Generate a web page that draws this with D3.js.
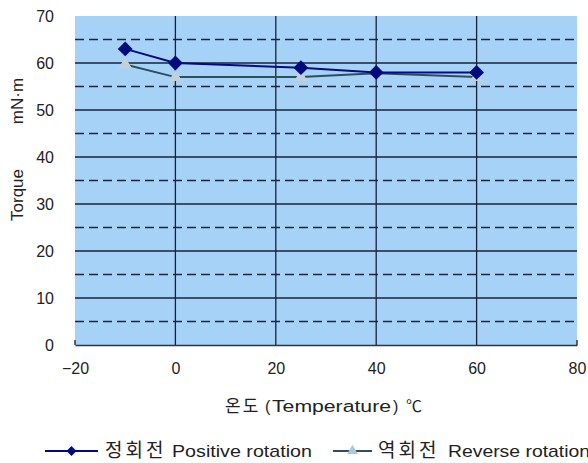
<!DOCTYPE html>
<html>
<head>
<meta charset="utf-8">
<script src="https://cdn.jsdelivr.net/npm/d3@7"></script>
<style>
  body { margin: 0; background: #fff; }
  svg { display: block; font-family: Arial, "Liberation Sans", sans-serif; }
</style>
</head>
<body>
<svg id="chart" width="588" height="463"></svg>
<script>
// Torque vs. temperature, forward and reverse rotation
const temperatures = [-10, 0, 25, 40, 60];
const positiveTorque = [63, 60, 59, 58, 58];
const reverseTorque = [59.7, 57, 57, 57.8, 57];
const xTicks = [-20, 0, 20, 40, 60, 80];
const yTicks = [0, 10, 20, 30, 40, 50, 60, 70];
const yMinorLines = [5, 15, 25, 35, 45, 55, 65];

const latin = "Arial, 'Liberation Sans', sans-serif";
const hangul = "'Noto Sans CJK KR', sans-serif";

const svg = d3.select("#chart");
const x = d3.scaleLinear().domain([-20, 80]).range([75, 577]);
const y = d3.scaleLinear().domain([0, 70]).range([345, 16]);

// plot area
svg.append("rect")
  .attr("x", x(-20)).attr("y", y(70))
  .attr("width", x(80) - x(-20)).attr("height", y(0) - y(70))
  .attr("fill", "#a6d2f8");

// dashed half-step lines
svg.append("g").selectAll("line").data(yMinorLines).join("line")
  .attr("x1", x(-20)).attr("x2", x(80))
  .attr("y1", d => y(d)).attr("y2", d => y(d))
  .attr("stroke", "#1c2440").attr("stroke-width", 1.3)
  .attr("stroke-dasharray", "9,5");

// solid major lines
svg.append("g").selectAll("line").data(yTicks.filter(d => d > 0 && d < 70)).join("line")
  .attr("x1", x(-20)).attr("x2", x(80))
  .attr("y1", d => y(d)).attr("y2", d => y(d))
  .attr("stroke", "#1a2238").attr("stroke-width", 1.3);

svg.append("g").selectAll("line").data(xTicks.filter(d => d > -20 && d < 80)).join("line")
  .attr("x1", d => x(d)).attr("x2", d => x(d))
  .attr("y1", y(0)).attr("y2", y(70))
  .attr("stroke", "#1a2238").attr("stroke-width", 1.3);

// x axis baseline with end ticks
const xAxis = d3.axisBottom(x).tickValues(xTicks).tickSize(0).tickPadding(18)
  .tickFormat(d => d < 0 ? "\u2212" + Math.abs(d) : d);
const gx = svg.append("g").attr("transform", `translate(0,${y(0)})`).call(xAxis);
gx.select(".domain").attr("stroke", "#333").attr("stroke-width", 1.5);
gx.selectAll("text").attr("font-size", 16).attr("fill", "#222").attr("font-family", latin);
svg.append("g").selectAll("line").data([-20, 80]).join("line")
  .attr("x1", d => x(d)).attr("x2", d => x(d))
  .attr("y1", y(0)).attr("y2", y(0) - 5)
  .attr("stroke", "#333").attr("stroke-width", 1.5);

// y axis labels
const yAxis = d3.axisLeft(y).tickValues(yTicks).tickSize(0).tickPadding(21);
const gy = svg.append("g").attr("transform", `translate(${x(-20)},0)`).call(yAxis);
gy.select(".domain").remove();
gy.selectAll("text").attr("font-size", 16).attr("fill", "#222").attr("font-family", latin);

// axis titles
svg.append("text")
  .attr("transform", "translate(23,195) rotate(-90)")
  .attr("text-anchor", "middle").attr("font-size", 17).attr("fill", "#222")
  .attr("font-family", latin).text("Torque");
svg.append("text")
  .attr("transform", "translate(23,101) rotate(-90)")
  .attr("text-anchor", "middle").attr("font-size", 17).attr("fill", "#222")
  .attr("font-family", latin).text("mN\u00b7m");

const xTitle = svg.append("text").attr("y", 412).attr("fill", "#222").attr("font-size", 16);
xTitle.append("tspan").attr("x", 225).attr("font-family", hangul).attr("font-size", 17)
  .attr("letter-spacing", 2).text("온도");
xTitle.append("tspan").attr("x", 265).attr("font-family", latin).text("(");
xTitle.append("tspan").attr("x", 272).attr("font-family", latin)
  .attr("textLength", 119).attr("lengthAdjust", "spacingAndGlyphs").text("Temperature");
xTitle.append("tspan").attr("x", 393).attr("font-family", latin).text(")");
xTitle.append("tspan").attr("x", 406).attr("font-family", hangul).text("℃");

// series
const line = d3.line().x(d => x(d[0])).y(d => y(d[1]));
const revData = temperatures.map((t, i) => [t, reverseTorque[i]]);
const posData = temperatures.map((t, i) => [t, positiveTorque[i]]);

svg.append("path").datum(revData).attr("d", line)
  .attr("fill", "none").attr("stroke", "#2d4f5c").attr("stroke-width", 2);
svg.append("g").selectAll("path").data(revData).join("path")
  .attr("d", d3.symbol(d3.symbolTriangle, 75))
  .attr("transform", d => `translate(${x(d[0])},${y(d[1])})`)
  .attr("fill", "#c4d0d6");

svg.append("path").datum(posData).attr("d", line)
  .attr("fill", "none").attr("stroke", "#000b80").attr("stroke-width", 2);
svg.append("g").selectAll("path").data(posData).join("path")
  .attr("d", d3.symbol(d3.symbolSquare, 110))
  .attr("transform", d => `translate(${x(d[0])},${y(d[1])}) rotate(45)`)
  .attr("fill", "#000b80");

// legend
const legend = svg.append("g");
const items = [
  { x0: 45, x1: 98, xk: 105, xe: 172, we: 140, label: ["정회전", "Positive rotation"],
    stroke: "#000b80", fill: "#000b80", sym: d3.symbolSquare, size: 50, rot: 45 },
  { x0: 333, x1: 372, xk: 378, xe: 448, we: 142, label: ["역회전", "Reverse rotation"],
    stroke: "#2d4f5c", fill: "#a9c9dd", sym: d3.symbolTriangle, size: 50, rot: 0 }
];
const ly = 451;
items.forEach(it => {
  legend.append("line").attr("x1", it.x0).attr("x2", it.x1)
    .attr("y1", ly).attr("y2", ly).attr("stroke", it.stroke).attr("stroke-width", 2);
  legend.append("path").attr("d", d3.symbol(it.sym, it.size))
    .attr("transform", `translate(${(it.x0 + it.x1) / 2},${ly}) rotate(${it.rot})`)
    .attr("fill", it.fill);
  const t = legend.append("text").attr("y", ly + 6).attr("fill", "#222");
  t.append("tspan").attr("x", it.xk).attr("font-family", hangul).attr("font-size", 19)
    .attr("letter-spacing", 3).text(it.label[0]);
  t.append("tspan").attr("x", it.xe).attr("font-family", latin).attr("font-size", 17)
    .attr("textLength", it.we).attr("lengthAdjust", "spacingAndGlyphs").text(it.label[1]);
});
</script>
</body>
</html>
